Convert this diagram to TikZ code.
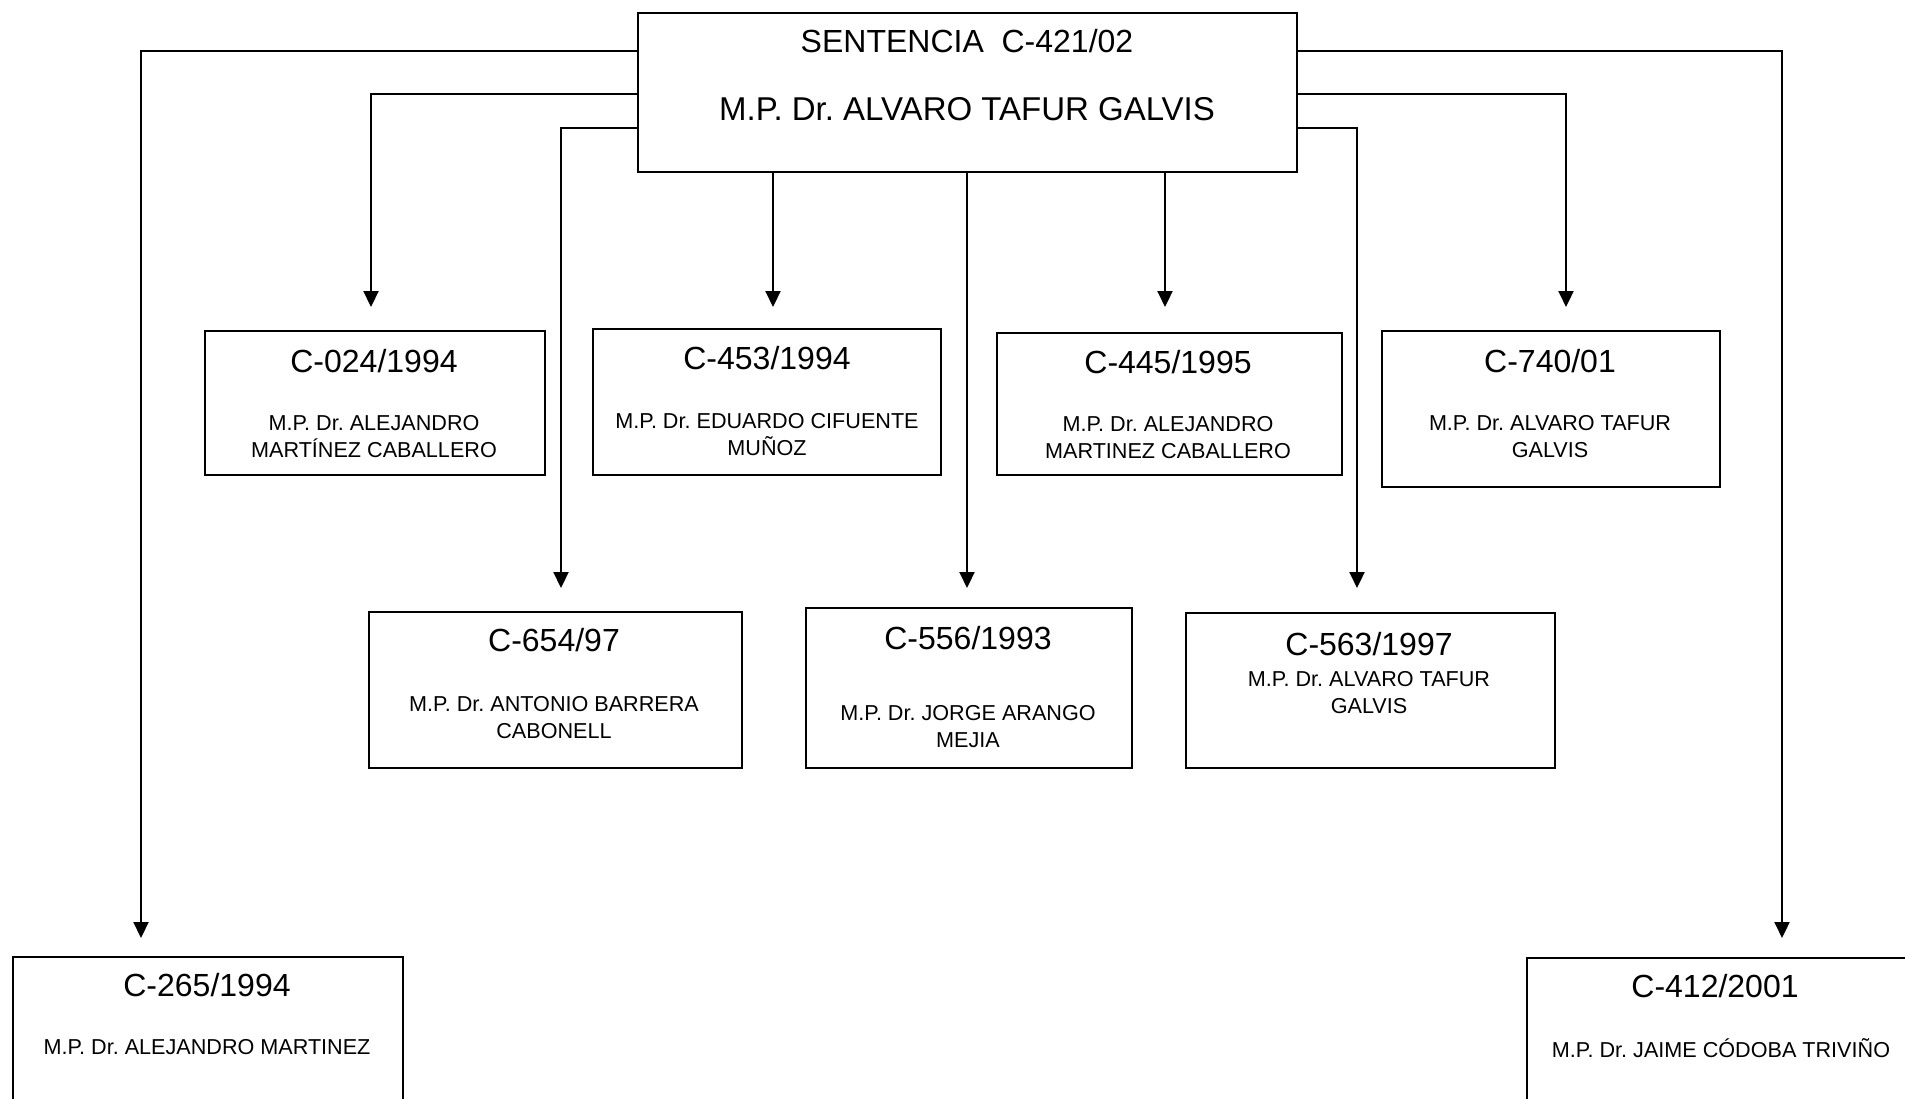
\documentclass[tikz,border=0pt]{standalone}
\usepackage{fontspec}
\setmainfont{Liberation Sans}
\usetikzlibrary{arrows.meta}
\frenchspacing
\begin{document}
\begin{tikzpicture}[x=1pt,y=-1pt,
  box/.style={draw, line width=2pt, inner sep=0pt, anchor=north west},
  ttl/.style={font=\fontsize{32}{38}\selectfont, inner sep=0pt},
  bdy/.style={font=\fontsize{21.6}{27}\selectfont, inner sep=0pt, align=center},
  conn/.style={line width=2.2pt, -{Triangle[length=16pt,width=15pt]}}]
\useasboundingbox (0,0) rectangle (1905,1099);
\fill[white] (0,0) rectangle (1905,1099);
\clip (0,0) rectangle (1905,1099);

% boxes
\node[box, minimum width=659pt, minimum height=159pt] (top) at (637,12) {};
\node[box, minimum width=340pt, minimum height=144pt] (b024) at (204,330) {};
\node[box, minimum width=348pt, minimum height=146pt] (b453) at (592,328) {};
\node[box, minimum width=345pt, minimum height=142pt] (b445) at (996,332) {};
\node[box, minimum width=338pt, minimum height=156pt] (b740) at (1381,330) {};
\node[box, minimum width=373pt, minimum height=156pt] (b654) at (368,611) {};
\node[box, minimum width=326pt, minimum height=160pt] (b556) at (805,607) {};
\node[box, minimum width=369pt, minimum height=155pt] (b563) at (1185,612) {};
\node[box, minimum width=390pt, minimum height=300pt] (b265) at (12,956) {};
\node[box, minimum width=400pt, minimum height=300pt] (b412) at (1526,957) {};

% texts
\node[ttl] (topa) at (967,41) {SENTENCIA~~C-421/02};
\node[ttl, font=\fontsize{33}{38}\selectfont] (topb) at (967,109) {M.P. Dr. ALVARO TAFUR GALVIS};

\node[ttl] (t024a) at (374,361) {C-024/1994};
\node[bdy] (t024b) at (374,437) {M.P. Dr. ALEJANDRO\\MARTÍNEZ CABALLERO};
\node[ttl] (t453a) at (767,358) {C-453/1994};
\node[bdy] (t453b) at (767,435) {M.P. Dr. EDUARDO CIFUENTE\\MUÑOZ};
\node[ttl] (t445a) at (1168,362) {C-445/1995};
\node[bdy] (t445b) at (1168,438) {M.P. Dr. ALEJANDRO\\MARTINEZ CABALLERO};
\node[ttl] (t740a) at (1550,361) {C-740/01};
\node[bdy] (t740b) at (1550,437) {M.P. Dr. ALVARO TAFUR\\GALVIS};

\node[ttl] (t654a) at (554,640) {C-654/97};
\node[bdy] (t654b) at (554,718) {M.P. Dr. ANTONIO BARRERA\\CABONELL};
\node[ttl] (t556a) at (968,638) {C-556/1993};
\node[bdy] (t556b) at (968,727) {M.P. Dr. JORGE ARANGO\\MEJIA};
\node[ttl] (t563a) at (1369,644) {C-563/1997};
\node[bdy] (t563b) at (1369,693) {M.P. Dr. ALVARO TAFUR\\GALVIS};

\node[ttl] (t265a) at (207,985) {C-265/1994};
\node[bdy] (t265b) at (207,1047) {M.P. Dr. ALEJANDRO MARTINEZ};
\node[ttl] (t412a) at (1715,986) {C-412/2001};
\node[bdy] (t412b) at (1721,1048) {M.P. Dr. JAIME CÓDOBA TRIVIÑO};

% arrow tips
\coordinate (tL) at (141,938);
\coordinate (tR) at (1782,938);
\coordinate (p024) at (371,307);
\coordinate (p453) at (773,307);
\coordinate (p445) at (1165,307);
\coordinate (p740) at (1566,307);
\coordinate (p654) at (561,588);
\coordinate (p556) at (967,588);
\coordinate (p563) at (1357,588);

% connectors
\draw[conn] (top.west |- 0,51) -| (tL);
\draw[conn] (top.west |- 0,94) -| (p024);
\draw[conn] (top.west |- 0,128) -| (p654);
\draw[conn] (top.south -| p453) -- (p453);
\draw[conn] (top.south -| p556) -- (p556);
\draw[conn] (top.south -| p445) -- (p445);
\draw[conn] (top.east |- 0,94) -| (p740);
\draw[conn] (top.east |- 0,128) -| (p563);
\draw[conn] (top.east |- 0,51) -| (tR);
\end{tikzpicture}
\end{document}
